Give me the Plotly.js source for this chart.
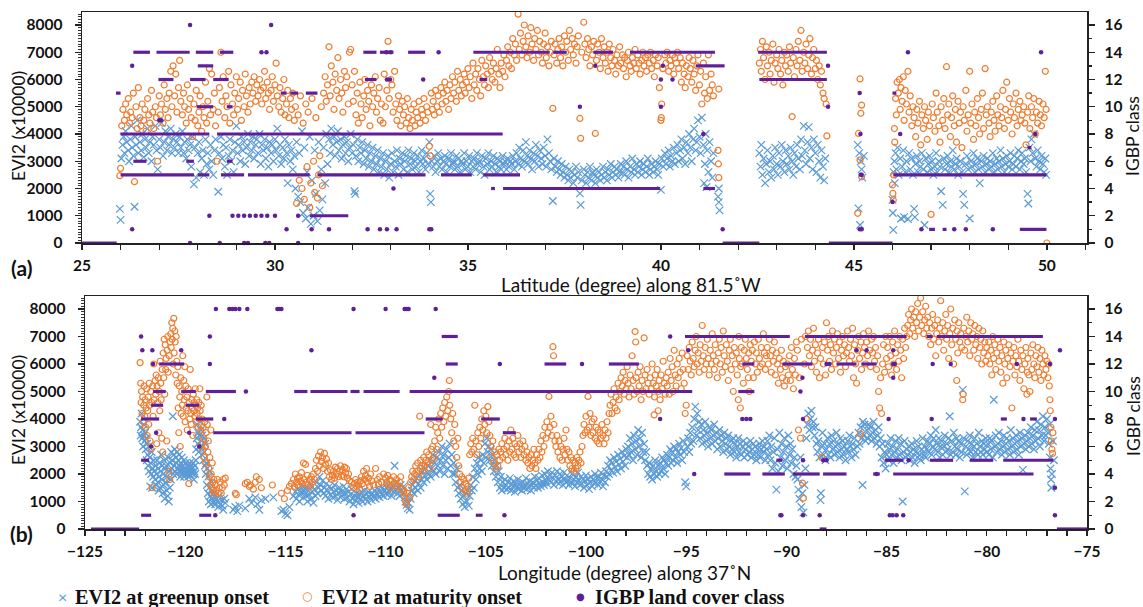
<!DOCTYPE html>
<html><head><meta charset="utf-8">
<script src="https://cdn.plot.ly/plotly-3.0.1.min.js"></script>
<style>html,body{margin:0;padding:0;background:#fff}#chart{width:1143px;height:607px}</style>
</head><body><div id="chart"></div>
<script>
// ---------- Panel (a): latitude along 81.5 W ----------
const greenupA = [[25.98,1250],[26.0,850],[26.02,3100],[26.05,3600],[26.08,3900],[26.1,3300],[26.13,4100],[26.16,3700],[26.2,3400],[26.22,3000],[26.25,3800],[26.28,4300],[26.3,3500],[26.33,3200],[26.36,1330],[26.38,3900],[26.4,3600],[26.43,4500],[26.46,3300],[26.5,3700],
[26.53,3400],[26.56,4000],[26.6,3150],[26.63,3800],[26.66,3500],[26.7,4200],[26.73,3300],[26.76,3700],[26.8,3000],[26.83,3900],[26.86,3600],[26.9,4300],[26.93,3400],[26.96,2700],[27.0,3800],[27.03,3500],[27.06,4400],[27.1,3200],[27.13,3700],[27.16,4100],[27.2,3400],[27.23,3900],[27.26,3600],[27.3,4200],[27.33,3300],[27.36,3800],[27.4,3500],[27.43,4000],[27.46,3700],[27.5,3300],
[27.53,3900],[27.56,3500],[27.6,4100],[27.63,3300],[27.66,3700],[27.7,3100],[27.73,3800],[27.76,3400],[27.8,3600],[27.83,2800],[27.86,3900],[27.9,2150],[27.93,3500],[27.96,2400],[28.0,3300],[28.03,3700],[28.06,2600],[28.1,3100],[28.13,3400],[28.16,2500],[28.2,3800],[28.23,2900],[28.26,3300],[28.3,2700],[28.33,3600],[28.36,3000],[28.4,2500],[28.43,3400],[28.46,3800],[28.53,1880],
[28.56,3300],[28.6,3900],[28.63,3100],[28.66,3600],[28.7,2800],[28.73,3500],[28.76,2500],[28.8,3200],[28.83,3800],[28.86,3000],[28.9,3400],[28.93,2600],[28.96,3700],[29.0,4300],[29.03,3300],[29.06,3600],[29.1,3000],[29.13,3900],[29.16,3400],[29.2,3700],[29.23,2900],[29.26,3500],[29.3,4000],[29.33,3200],[29.36,3700],[29.4,3400],[29.43,3900],[29.46,3100],[29.5,3600],
[29.53,3800],[29.56,3300],[29.6,4000],[29.63,2900],[29.66,3600],[29.7,3400],[29.73,3800],[29.76,3100],[29.8,3500],[29.83,2800],[29.86,3700],[29.9,3300],[29.93,3600],[29.96,3000],[30.0,3800],[30.03,3400],[30.06,4200],[30.1,3200],[30.13,3600],[30.16,2900],[30.2,3500],[30.23,3100],[30.26,3800],[30.3,3300],[30.33,2200],[30.36,3600],[30.4,3000],[30.43,3400],[30.46,2700],[30.5,3200],
[30.53,2000],[30.56,3700],[30.6,1700],[30.63,3300],[30.66,1500],[30.7,4100],[30.73,1100],[30.76,3500],[30.8,900],[30.83,2600],[30.86,1300],[30.9,3900],[30.93,700],[30.96,2300],[31.0,1000],[31.03,3400],[31.06,1800],[31.1,800],[31.13,3700],[31.16,1200],[31.2,2700],[31.23,1600],[31.26,3500],[31.3,2200],[31.33,4000],[31.36,2900],
[31.4,3800],[31.43,3300],[31.46,4200],[31.5,3600],[31.53,3900],[31.56,3200],[31.6,3700],[31.63,4100],[31.66,3400],[31.7,3800],[31.73,3100],[31.76,3600],[31.8,3900],[31.83,3300],[31.86,3700],[31.9,3000],[31.93,3500],[31.96,4000],[32.0,3300],[32.03,3600],[32.06,1900],[32.08,1800],[32.1,3200],[32.13,3800],[32.16,3000],[32.2,3500],[32.23,3300],[32.26,3700],[32.3,2900],[32.33,3400],[32.36,3100],[32.4,3600],[32.43,2800],[32.46,3300],[32.5,3000],[32.53,3500],[32.56,2700],[32.6,3200],[32.63,2900],[32.66,3400],[32.7,2600],[32.73,3100],[32.76,2800],[32.8,3300],[32.83,2500],[32.86,3000],[32.9,2700],[32.93,3200],[32.96,2400],[33.0,2900],
[33.03,3300],[33.06,2600],[33.1,3000],[33.13,2800],[33.16,3400],[33.2,2500],[33.23,3100],[33.26,2900],[33.3,3300],[33.33,2700],[33.36,3000],[33.4,3200],[33.43,2600],[33.46,3400],[33.5,2900],[33.53,3100],[33.56,2700],[33.6,3300],[33.63,3000],[33.66,2800],[33.7,3200],[33.73,2600],[33.76,3000],[33.8,3400],[33.83,2900],[33.86,3100],[33.9,2700],[33.93,3300],[33.96,2900],[34.0,3700],[34.02,1800],[34.04,1500],[34.06,3000],[34.1,2800],[34.13,3200],[34.16,2600],[34.2,3000],[34.23,3300],[34.26,2800],[34.3,3100],[34.33,2700],[34.36,3000],[34.4,3200],[34.43,2900],[34.46,2600],[34.5,3100],[34.53,2800],[34.56,3300],[34.6,2900],[34.63,3000],[34.66,2700],[34.7,3200],[34.73,2800],[34.76,3100],[34.8,2600],[34.83,3000],[34.86,2900],[34.9,3300],[34.93,2700],[34.96,3000],[35.0,2800],[35.03,3200],[35.06,2600],[35.1,3000],[35.13,2800],[35.16,3100],[35.2,2700],[35.23,3300],[35.26,2900],[35.3,3000],[35.33,2600],[35.36,3200],[35.4,2800],[35.43,2500],[35.46,3100],[35.5,2900],[35.53,3300],[35.56,2700],[35.6,3000],[35.63,2800],[35.66,3200],[35.7,2900],[35.73,2600],[35.76,3100],[35.8,2800],[35.83,3000],[35.86,2700],[35.9,3200],[35.93,2900],[35.96,3000],[36.0,2700],[36.03,3100],[36.06,2800],[36.1,3000],[36.13,2900],[36.16,3200],[36.2,2700],[36.23,3000],
[36.26,3300],[36.3,2900],[36.33,3500],[36.36,3100],[36.4,2800],[36.43,3400],[36.46,3000],[36.5,3700],[36.53,3200],[36.56,2900],[36.6,3400],[36.63,3100],[36.66,2700],[36.7,3300],[36.73,3000],[36.76,3600],[36.8,3200],[36.83,2800],[36.86,3400],[36.9,3100],[36.93,2900],[36.96,3500],[37.0,3200],[37.03,2800],[37.06,3800],[37.1,3300],[37.13,3000],[37.16,2700],[37.2,1540],[37.23,3100],[37.26,2800],[37.3,2600],[37.33,3000],[37.36,2700],[37.4,2500],[37.43,2900],[37.46,2600],[37.5,2400],
[37.53,2800],[37.56,2500],[37.6,2300],[37.63,2700],[37.66,2400],[37.7,2600],[37.73,2200],[37.76,2500],[37.8,2800],[37.83,2400],[37.86,2600],[37.9,1820],[37.92,1400],[37.95,2300],[38.0,2700],[38.03,2500],[38.06,2200],[38.1,2600],[38.13,2400],[38.16,2800],[38.2,2300],[38.23,2600],[38.26,2500],[38.3,2200],[38.33,2700],[38.36,2400],[38.4,2600],[38.43,2300],[38.46,2500],[38.5,2800],[38.53,2400],[38.56,2600],[38.6,2300],[38.63,2700],[38.66,2500],[38.7,2900],[38.73,2400],[38.76,2600],[38.8,2800],[38.83,2500],[38.86,2700],[38.9,2400],[38.93,2600],[38.96,2900],
[39.0,2600],[39.03,2800],[39.06,2500],[39.1,3000],[39.13,2700],[39.16,2400],[39.2,2800],[39.23,2600],[39.26,3100],[39.3,2700],[39.33,2500],[39.36,2900],[39.4,2600],[39.43,2800],[39.46,3000],[39.5,2500],[39.53,2700],[39.56,2900],[39.6,2600],[39.63,2800],[39.66,3100],[39.7,2500],[39.73,2700],[39.76,2900],[39.8,2600],[39.83,2800],[39.86,3000],[39.9,2700],[39.93,2500],[39.96,2900],[40.0,1950],[40.02,3100],
[40.06,2800],[40.1,3300],[40.13,2900],[40.16,3100],[40.2,3400],[40.23,2800],[40.26,3200],[40.3,3000],[40.33,3500],[40.36,2900],[40.4,3300],[40.43,3600],[40.46,3000],[40.5,3400],[40.53,3800],[40.56,3100],[40.6,3500],[40.63,2900],[40.66,3700],[40.7,3300],[40.73,4000],[40.76,3500],[40.8,3000],[40.83,3800],[40.86,4200],[40.9,3400],[40.93,3700],[40.96,4500],[41.0,3900],[41.03,3300],[41.06,4600],[41.1,3600],[41.12,2200],[41.14,2900],[41.16,4000],[41.18,2050],[41.2,3400],[41.23,2600],[41.26,3700],[41.3,3000],[41.33,2400],[41.36,3300],[41.48,1700],[41.5,1500],[41.52,1200],[41.5,2000],
[42.55,3300],[42.58,2800],[42.6,3600],[42.63,2500],[42.66,3100],[42.7,2200],[42.73,2900],[42.76,3400],[42.8,2600],[42.83,3000],[42.86,2400],[42.9,3200],[42.93,2700],[42.96,3500],[43.0,2900],[43.03,2500],[43.06,3300],[43.1,2800],[43.13,3600],[43.16,3000],[43.2,2600],[43.23,3400],[43.26,2900],[43.3,3200],[43.33,2700],[43.36,3500],[43.4,3000],[43.43,2500],[43.46,3300],[43.5,2800],[43.53,3600],[43.56,3100],[43.6,2700],[43.63,3800],[43.66,3200],[43.7,4300],[43.73,3400],[43.76,2900],[43.8,3700],[43.83,4250],[43.86,3100],[43.9,3500],[43.93,2700],[43.96,3800],[44.0,3300],[44.03,2600],[44.06,3600],[44.1,3000],[44.13,2400],[44.16,3400],[44.2,2800],[44.23,2300],[44.26,3100],
[45.1,3600],[45.14,3300],[45.18,3000],[45.2,2700],[45.22,2400],[45.12,1270],[45.16,660],[45.26,3200],
[46.0,1580],[46.01,1100],[46.02,480],[46.03,2600],[46.05,3000],[46.06,2200],[46.08,3300],[46.1,2700],[46.13,3500],[46.16,2500],[46.2,3100],[46.22,900],[46.25,2800],[46.28,3400],[46.3,950],[46.33,2600],[46.36,3000],[46.4,880],[46.43,3300],[46.46,2700],[46.5,3100],[46.53,2500],[46.56,1250],[46.58,950],[46.6,2900],[46.63,3200],[46.66,2600],[46.7,3000],[46.73,2800],[46.76,3300],[46.8,2700],[46.83,660],[46.86,3100],[46.9,2600],[46.93,2900],[46.96,3200],[47.0,2700],[47.03,3000],[47.06,2500],[47.1,2800],[47.13,3300],[47.16,2600],[47.2,3000],[47.23,2800],[47.26,1900],[47.3,1400],[47.33,3100],[47.36,2700],[47.4,2900],[47.43,3200],[47.46,2600],[47.5,3000],[47.53,2800],[47.56,3400],[47.6,2700],[47.63,2900],[47.66,3100],[47.7,2500],[47.73,2800],[47.76,3000],[47.8,2600],[47.83,1800],[47.86,1400],[47.9,2900],[47.93,3200],[47.96,2700],[48.0,900],[48.03,3000],[48.06,2800],[48.1,3300],[48.13,2600],[48.16,2900],[48.2,3100],[48.23,2700],[48.26,2200],[48.3,3000],[48.33,2800],[48.36,3200],[48.4,2600],[48.43,2900],[48.46,3100],[48.5,2700],[48.53,3000],[48.56,2800],[48.6,3300],[48.63,2600],[48.66,2900],[48.7,3100],[48.73,2700],[48.76,3000],[48.8,3400],[48.83,2800],[48.86,3100],[48.9,2600],[48.93,2900],[48.96,3200],[49.0,2800],[49.03,3000],[49.06,3300],[49.1,2700],[49.13,2900],[49.16,3200],[49.2,2800],[49.23,3100],[49.26,3400],[49.3,2700],[49.33,3000],[49.36,3300],[49.4,2900],[49.43,3100],[49.46,2600],[49.5,1800],[49.52,1450],[49.55,3500],[49.58,3000],[49.6,3800],[49.63,3300],[49.66,4000],[49.7,3100],[49.73,2800],[49.76,3400],[49.8,3000],[49.83,2700],[49.86,3200],[49.9,2900],[49.93,2600],[49.96,3100],[49.98,2500]];

const maturityA = [[25.98,2470],[26.0,2740],[26.03,4300],[26.06,4900],[26.1,4500],[26.13,5100],[26.16,4700],[26.2,5300],[26.23,4400],[26.26,4800],[26.3,4600],[26.33,5500],[26.36,2250],[26.4,5000],[26.43,4200],[26.46,5700],[26.5,4600],[26.53,4300],[26.56,5100],[26.6,4500],[26.63,4900],[26.66,4100],[26.7,5300],[26.73,4700],[26.76,4400],[26.8,5600],[26.83,4800],[26.86,4200],[26.9,5000],[26.93,4600],[26.96,3000],[27.0,5400],[27.03,4700],[27.06,5100],[27.1,4400],[27.13,5800],[27.16,4900],[27.2,5300],[27.23,4600],[27.26,5500],[27.3,6300],[27.33,5000],[27.36,6500],[27.4,5400],[27.43,6200],[27.46,4800],[27.5,5700],[27.53,6700],[27.56,5200],[27.6,4700],[27.63,5500],[27.66,5000],[27.7,4400],[27.73,5800],[27.76,4900],[27.8,5300],[27.83,4600],[27.86,3900],[27.9,5100],[27.93,4500],[27.96,5600],[28.0,4300],[28.03,4800],[28.06,5400],[28.1,4100],[28.13,5000],[28.16,4600],[28.2,5900],[28.23,4400],[28.26,5200],[28.3,6400],[28.33,4700],[28.36,6200],[28.4,4900],[28.43,5500],[28.46,4300],[28.5,3000],[28.53,4800],[28.56,5700],[28.6,7000],[28.63,5200],[28.66,6100],[28.7,4600],[28.73,5400],[28.76,5000],[28.8,6300],[28.83,4400],[28.86,5800],[28.9,5100],[28.93,4700],[28.96,5500],[29.0,6100],[29.03,4900],[29.06,5300],[29.1,5900],[29.13,4500],[29.16,5600],[29.2,5000],[29.23,6200],[29.26,5400],[29.3,4800],[29.33,5700],[29.36,5100],[29.4,5900],[29.43,5500],[29.46,6100],[29.5,5200],[29.53,5800],[29.56,5400],[29.6,6000],[29.63,5600],[29.66,5100],[29.7,5700],[29.73,6300],[29.76,5300],[29.8,5900],[29.83,5500],[29.86,4900],[29.9,5600],[29.93,6100],[29.96,5200],[30.0,5800],[30.03,6600],[30.06,5400],[30.1,5000],[30.13,5700],[30.16,4800],[30.2,5300],[30.23,6000],[30.26,4700],[30.3,5100],[30.33,5600],[30.36,4600],[30.4,5300],[30.43,4900],[30.46,5500],[30.5,4500],[30.53,5000],[30.56,1450],[30.6,4700],[30.63,2300],[30.66,5400],[30.7,2000],[30.73,4400],[30.76,1600],[30.8,5100],[30.83,2800],[30.86,4800],[30.9,1300],[30.93,2200],[30.96,5300],[31.0,3000],[31.03,1850],[31.06,4600],[31.1,1650],[31.13,2500],[31.16,3200],[31.2,5000],[31.23,2100],
[31.26,5500],[31.3,6100],[31.33,5200],[31.36,5800],[31.4,7200],[31.43,5400],[31.46,6500],[31.5,5900],[31.53,4900],[31.56,6200],[31.6,5600],[31.63,6800],[31.66,5300],[31.7,6000],[31.73,5500],[31.76,4800],[31.8,6300],[31.83,5700],[31.86,6100],[31.9,5100],[31.93,7000],[31.96,7100],[32.0,5800],[32.03,5200],[32.06,6300],[32.1,4700],[32.13,5500],[32.16,4400],[32.2,5900],[32.23,5100],[32.26,4600],[32.3,5400],[32.33,6000],[32.36,4900],[32.4,5600],[32.43,5200],[32.46,4300],[32.5,5800],[32.53,5000],[32.56,5500],[32.6,6100],[32.63,4800],[32.66,5300],[32.7,5700],[32.73,4500],[32.76,5100],[32.8,4400],[32.83,6200],[32.86,5000],[32.9,5600],[32.93,7400],[32.96,5300],[33.0,6000],
[33.03,5800],[33.06,4800],[33.1,6300],[33.13,5100],[33.16,4500],[33.2,5400],[33.23,4900],[33.26,4300],[33.3,5200],[33.33,4700],[33.36,5000],[33.4,4400],[33.43,5300],[33.46,4600],[33.5,4200],[33.53,4900],[33.56,4500],[33.6,5100],[33.63,4300],[33.66,4800],[33.7,4600],[33.73,5200],[33.76,4400],[33.8,4900],[33.83,4700],[33.86,5300],[33.9,4500],[33.93,5000],[33.96,4800],[34.0,3550],[34.02,3200],[34.05,5500],[34.08,4900],[34.1,5200],[34.13,4700],[34.16,5600],[34.2,5000],[34.23,5400],[34.26,4800],[34.3,5700],[34.33,5100],[34.36,5500],[34.4,5900],[34.43,5200],[34.46,5600],[34.5,4900],[34.53,5800],[34.56,5300],[34.6,6100],[34.63,5500],[34.66,5900],[34.7,5200],[34.73,6300],[34.76,5600],[34.8,6000],[34.83,5400],[34.86,5800],[34.9,6200],[34.93,5500],[34.96,5900],[35.0,6400],[35.03,5700],[35.06,6100],[35.1,5300],[35.13,6600],[35.16,5800],[35.2,6200],[35.23,5600],[35.26,6400],[35.3,6000],[35.33,5400],[35.36,6700],[35.4,6100],[35.43,5800],[35.46,6500],[35.5,6200],[35.53,5700],[35.56,6800],[35.6,6300],[35.63,6000],[35.66,6600],[35.7,5900],[35.73,6400],[35.76,7100],[35.8,6200],[35.83,5700],[35.86,6600],[35.9,6300],[35.93,6900],[35.96,6100],[36.0,6700],[36.03,7200],[36.06,6500],[36.1,7000],[36.13,6400],[36.16,7500],[36.2,6900],[36.23,7300],[36.26,6700],[36.3,8400],[36.33,7100],[36.36,7700],[36.4,6900],[36.43,7400],[36.46,8000],[36.5,7200],[36.53,6800],[36.56,7600],[36.6,7000],[36.63,7900],[36.66,7300],[36.7,6700],[36.73,7500],[36.76,7100],[36.8,7800],[36.83,6900],[36.86,7400],[36.9,7000],[36.93,6600],[36.96,7300],[37.0,7700],[37.03,6800],[37.06,7200],[37.1,6500],[37.13,7000],[37.16,7400],[37.2,4940],[37.23,6900],[37.26,7300],[37.3,6600],[37.33,7100],[37.36,7500],[37.4,6800],[37.43,7200],[37.46,6500],[37.5,7600],[37.53,7000],[37.56,7400],[37.6,6700],[37.63,7800],[37.66,7100],[37.7,7500],[37.73,6900],[37.76,7300],[37.8,6600],[37.83,7200],[37.86,7600],[37.9,4570],[37.92,3840],[37.95,7000],[38.0,8100],[38.03,7300],[38.06,6800],[38.1,7500],[38.13,7100],[38.16,6500],[38.2,7200],[38.23,6900],[38.26,7400],[38.3,4020],[38.33,6700],[38.36,7300],[38.4,7000],[38.43,6400],[38.46,7500],[38.5,6800],[38.53,7200],[38.56,6600],[38.6,7000],[38.63,6300],[38.66,7300],[38.7,6800],[38.73,6500],[38.76,7100],[38.8,6700],[38.83,6200],[38.86,6900],[38.9,6500],[38.93,7200],[38.96,6600],[39.0,6900],[39.03,6400],[39.06,6800],[39.1,6100],[39.13,6700],[39.16,7000],[39.2,6500],[39.23,6300],[39.26,6800],[39.3,6600],[39.33,7100],[39.36,6400],[39.4,6900],[39.43,6600],[39.46,6200],[39.5,6700],[39.53,7000],[39.56,6500],[39.6,6800],[39.63,6300],[39.66,6900],[39.7,6600],[39.73,7000],[39.76,6400],[39.8,6700],[39.83,6100],[39.86,6900],[39.9,6500],[39.93,6800],[39.96,5700],[40.0,4500],[40.01,4600],[40.02,5100],[40.05,6400],[40.1,6900],[40.13,6600],[40.16,7000],[40.2,6300],[40.23,6700],[40.26,6500],[40.3,6900],[40.33,6200],[40.36,6800],[40.4,6600],[40.43,7000],[40.46,6400],[40.5,6800],[40.53,5900],[40.56,6600],[40.6,6200],[40.63,5700],[40.66,6500],[40.7,6100],[40.73,6800],[40.76,6400],[40.8,5900],[40.83,6700],[40.86,6200],[40.9,5600],[40.93,6500],[40.96,6900],[41.0,5800],[41.03,6300],[41.06,5100],[41.1,6600],[41.13,5500],[41.16,6100],[41.2,5300],[41.23,6900],[41.26,5600],[41.3,6200],[41.33,5800],[41.36,5400],[41.48,3400],[41.49,2900],[41.5,2400],[41.5,5650],
[42.55,6600],[42.58,7100],[42.6,6300],[42.63,7400],[42.66,6800],[42.7,6000],[42.73,7200],[42.76,6500],[42.8,7000],[42.83,6200],[42.86,6700],[42.9,7300],[42.93,5900],[42.96,6600],[43.0,6900],[43.03,6400],[43.06,7100],[43.1,6200],[43.13,6700],[43.16,5800],[43.2,7000],[43.23,6500],[43.26,6900],[43.3,6300],[43.33,7200],[43.36,6600],[43.4,4640],[43.43,6800],[43.46,6100],[43.5,7100],[43.53,6500],[43.56,7400],[43.6,6700],[43.63,7800],[43.66,6300],[43.7,7000],[43.73,6600],[43.76,7300],[43.8,6400],[43.83,6900],[43.86,7500],[43.9,6200],[43.93,6800],[43.96,7100],[44.0,6400],[44.03,6700],[44.06,6000],[44.1,6500],[44.13,5800],[44.16,6300],[44.2,5500],[44.23,5300],[44.3,3930],[44.28,5100],
[45.16,6020],[45.2,5060],[45.18,4760],[45.12,4020],[45.16,3050],[45.2,2430],[45.1,1090],
[46.0,2130],[46.01,1820],[46.02,1580],[46.03,2500],[46.05,4200],[46.06,3700],[46.08,5300],[46.1,4700],[46.12,5900],[46.15,5500],[46.18,6000],[46.2,4900],[46.22,5700],[46.25,5200],[46.28,6100],[46.3,4500],[46.33,5600],[46.36,5100],[46.4,6300],[46.43,4800],[46.46,5400],[46.5,4300],[46.53,5000],[46.56,4600],[46.6,3900],[46.63,4900],[46.66,4400],[46.7,5200],[46.73,3600],[46.76,4700],[46.8,4200],[46.83,5000],[46.86,4500],[46.9,3800],[46.93,4800],[46.96,4300],[47.0,1050],[47.03,5100],[47.06,4600],[47.1,4100],[47.13,5500],[47.16,4800],[47.2,4300],[47.23,3700],[47.26,5000],[47.3,4500],[47.33,5300],[47.36,4200],[47.4,6470],[47.43,4700],[47.46,5100],[47.5,3900],[47.53,4600],[47.56,5400],[47.6,4300],[47.63,4900],[47.66,3700],[47.7,5200],[47.73,4400],[47.76,4800],[47.8,3500],[47.83,5000],[47.86,4500],[47.9,5600],[47.93,4100],[47.96,4700],[48.0,6300],[48.03,4400],[48.06,5100],[48.1,3800],[48.13,4800],[48.16,4300],[48.2,5300],[48.23,4600],[48.26,4000],[48.3,4900],[48.33,5500],[48.36,4200],[48.4,6400],[48.43,4700],[48.46,5000],[48.5,4400],[48.53,3900],[48.56,4800],[48.6,5200],[48.63,4500],[48.66,4100],[48.7,5400],[48.73,4700],[48.76,4300],[48.8,5000],[48.83,4600],[48.86,5600],[48.9,4200],[48.93,4900],[48.96,5900],[49.0,4500],[49.03,5300],[49.06,4800],[49.1,4000],[49.13,5100],[49.16,4600],[49.2,5500],[49.23,4300],[49.26,4900],[49.3,5200],[49.33,4500],[49.36,4700],[49.4,5000],[49.43,4400],[49.46,3600],[49.5,4800],[49.53,5400],[49.56,4200],[49.6,5000],[49.63,4600],[49.66,5300],[49.7,4000],[49.73,4800],[49.76,4400],[49.8,5200],[49.83,4700],[49.86,4300],[49.9,5100],[49.93,4600],[49.96,6300],[49.98,4900],[50.0,0]];

// IGBP runs: [class, start, end]
const igbpRunsA = [[0,25.0,25.9],[11,25.88,26.0],[8,26.0,28.3],[8,28.5,35.9],
[5,26.0,27.9],[5,28.0,28.3],[5,28.6,29.2],[5,29.3,30.9],[5,31.1,33.9],[5,34.3,35.1],[5,35.4,36.35],
[14,26.33,26.76],[14,26.93,27.79],[14,27.95,28.4],[14,28.57,28.92],[14,32.29,32.63],[14,32.72,33.07],[14,33.45,33.89],[14,35.14,37.12],[14,37.21,37.56],[14,38.25,38.76],[14,39.2,41.4],[14,42.52,44.3],
[12,26.98,27.37],[12,27.8,28.2],[12,28.4,28.8],[12,32.33,32.63],[12,35.3,35.5],[12,42.55,44.3],
[13,28.0,28.4],[13,40.9,41.65],[10,27.97,28.4],[10,28.75,28.9],
[6,26.33,26.67],[6,27.7,27.9],[6,28.75,28.9],
[11,30.15,30.3],[11,30.4,30.6],[11,30.8,31.1],[2,30.9,31.9],
[4,35.6,35.7],[4,35.91,39.98],[4,41.1,41.4],
[0,41.6,42.55],[0,44.35,46.0],[11,46.0,46.1],[5,46.02,49.99],
[1,46.95,47.1],[1,47.3,47.4],[1,49.3,49.99],[7,49.5,49.6]];
// IGBP single pixels: [latitude, class]
const igbpDotsA = [[28.3,2],[28.9,2],[29.05,2],[29.2,2],[29.35,2],[29.5,2],[29.65,2],[29.8,2],[30.0,2],[30.6,2],
[26.3,1],[30.3,1],[30.95,1],[31.4,1],[32.4,1],[32.9,1],[32.72,1],[33.15,1],[34.0,1],[34.05,1],[41.6,1],[45.15,1],[45.2,1],[46.75,1],[47.6,1],[47.9,1],[48.6,1],
[27.8,16],[29.9,16],[29.65,14],[29.78,14],[32.89,14],[33.0,14],[34.24,14],[46.4,14],[49.85,14],
[32.9,12],[32.98,12],[33.84,12],[40.0,12],[40.3,12],[26.3,13],[38.3,13],[40.05,13],[44.33,13],
[37.9,10],[40.0,10],[44.33,10],[27.0,9],[27.05,9],[45.15,11],[41.1,8],[45.17,8],[46.2,8],[49.7,8],
[45.18,5],[45.2,5],[33.07,4],[46.0,3],[27.8,0],[28.57,0],[29.2,0],[29.3,0],[29.75,0],[29.85,0],[30.6,0]];

// ---------- Panel (b): longitude along 37 N ----------
const greenupB = [[-122.25,3900],[-122.22,3400],[-122.2,3700],[-122.18,4200],[-122.15,3300],[-122.12,3600],[-122.1,3000],[-122.07,3800],[-122.05,3400],[-122.02,3200],[-122.0,3500],[-121.97,2900],[-121.95,3300],[-121.92,2500],[-121.9,3100],[-121.87,2700],[-121.85,2300],[-121.82,3000],[-121.8,2100],[-121.77,2600],[-121.75,1550],[-121.72,2400],[-121.7,2000],[-121.67,2800],[-121.65,1500],[-121.62,2200],[-121.6,1900],[-121.57,2500],[-121.55,2100],
[-121.5,1800],[-121.47,2300],[-121.45,1600],[-121.42,2000],[-121.4,2500],[-121.37,1700],[-121.35,2200],[-121.32,1400],[-121.3,1900],[-121.27,2400],[-121.25,1500],[-121.22,2100],[-121.2,2700],[-121.17,1800],[-121.15,2300],[-121.12,1300],[-121.1,2000],[-121.07,1600],[-121.05,2500],[-121.02,1100],[-121.0,2200],[-120.97,1700],
[-120.95,2300],[-120.92,1400],[-120.9,1900],[-120.87,1200],[-120.85,2600],[-120.82,1000],[-120.8,2100],[-120.77,1500],[-120.75,2400],[-120.72,1800],[-120.7,2800],[-120.67,2200],[-120.65,2500],[-120.62,4100],[-120.6,2000],[-120.57,2700],[-120.55,2300],[-120.52,2900],[-120.5,2100],[-120.47,2600],[-120.45,2400],[-120.42,2000],[-120.4,2800],[-120.37,2200],[-120.35,2500],[-120.32,2100],[-120.3,2700],[-120.27,2300],[-120.25,1900],[-120.22,2400],[-120.2,2100],[-120.17,2600],[-120.15,2000],[-120.12,2300],[-120.1,2100],[-120.07,2500],[-120.05,1900],[-120.02,2200],[-120.0,2000],[-119.97,2400],[-119.95,2100],[-119.92,2000],[-119.9,2300],[-119.87,2100],[-119.85,1900],[-119.82,2200],[-119.8,2000],[-119.77,2400],[-119.75,2100],[-119.72,1950],[-119.7,2300],[-119.67,2050],[-119.65,2200],[-119.62,2000],[-119.6,2400],[-119.57,1800],[-119.55,2100],[-119.52,2300],[-119.5,2000],[-119.47,2500],
[-119.45,2900],[-119.42,3300],[-119.4,3800],[-119.37,3100],[-119.35,3500],[-119.32,2800],[-119.3,3400],[-119.27,3900],[-119.25,3000],[-119.22,3600],[-119.2,3200],[-119.17,2700],[-119.15,3400],[-119.12,3000],[-119.1,2500],[-119.07,3300],[-119.05,2800],[-119.02,2300],[-119.0,3100],[-118.97,2000],
[-118.95,2400],[-118.92,1600],[-118.9,2200],[-118.87,1300],[-118.85,1900],[-118.82,1000],[-118.8,1500],[-118.77,2100],[-118.75,1200],[-118.72,900],[-118.7,1700],[-118.67,1100],[-118.65,1400],[-118.62,950],[-118.6,1300],[-118.57,1000],[-118.55,1200],[-118.5,900],[-118.45,1100],[-118.4,1000],[-118.35,800],[-118.3,1200],[-118.25,900],[-118.2,1050],[-118.15,850],[-118.1,700],[-118.05,1100],[-118.0,950],
[-117.6,700],[-117.5,800],[-117.4,650],[-117.3,850],[-117.0,750],[-116.8,1100],[-116.7,950],[-116.5,1150],[-116.4,900],[-116.3,700],[-116.2,1050],[-116.0,1100],[-115.6,1150],[-115.2,650],[-115.1,700],[-115.0,550],[-114.9,500],[-114.8,800],
[-114.6,1200],[-114.5,1350],[-114.45,1100],[-114.4,1450],[-114.35,1250],[-114.3,1000],[-114.25,1400],[-114.2,1300],[-114.15,1550],[-114.1,1150],[-114.05,1350],[-114.0,1500],[-113.95,1200],[-113.9,1000],[-113.85,1400],[-113.8,1250],[-113.75,1600],[-113.7,1100],[-113.65,1350],[-113.6,950],[-113.55,1450],[-113.5,1200],[-113.45,1700],[-113.4,1300],[-113.35,1500],[-113.3,1900],[-113.25,1600],[-113.2,1400],[-113.15,1750],[-113.1,1300],[-113.05,1500],[-113.0,1200],[-112.95,1650],[-112.9,1400],[-112.85,1100],[-112.8,1550],[-112.75,1250],[-112.7,1450],[-112.65,1150],[-112.6,1350],[-112.55,1600],[-112.5,1200],[-112.45,1400],[-112.4,1050],[-112.35,1300],[-112.3,1500],[-112.25,1150],[-112.2,1350],[-112.15,1250],[-112.1,1550],[-112.05,1100],[-112.0,1300],[-111.95,1450],[-111.9,1150],[-111.85,1350],[-111.8,1000],[-111.75,1250],[-111.7,1450],[-111.65,1100],[-111.6,900],[-111.55,1200],[-111.5,1050],[-111.45,1300],[-111.4,1150],[-111.35,950],[-111.3,1250],[-111.25,1100],[-111.2,1350],[-111.15,1000],[-111.1,1200],[-111.05,1400],[-111.0,1100],[-110.95,1250],[-110.9,1000],[-110.85,1350],[-110.8,1150],[-110.75,1250],[-110.7,1050],[-110.65,1300],[-110.6,1200],[-110.55,1400],[-110.5,1100],[-110.45,1300],[-110.4,1250],[-110.35,1450],[-110.3,1150],[-110.25,1350],[-110.2,1250],[-110.15,1500],[-110.1,1200],[-110.05,1400],[-110.0,1300],
[-109.95,1500],[-109.9,1250],[-109.85,1600],[-109.8,1350],[-109.75,1450],[-109.7,1200],[-109.65,1550],[-109.6,1350],[-109.55,2300],[-109.5,1450],[-109.45,1700],[-109.4,1300],[-109.35,1500],[-109.3,1200],[-109.25,1600],[-109.2,1400],[-109.15,1300],[-109.1,1550],[-109.05,1150],[-109.0,1000],[-108.95,880],[-108.9,750],[-108.85,950],[-108.8,700],[-108.75,1100],[-108.7,1400],[-108.65,1600],[-108.6,1300],[-108.55,1750],[-108.5,1500],[-108.45,1850],[-108.4,1400],[-108.35,1650],[-108.3,1950],[-108.25,1500],[-108.2,1800],[-108.15,2100],[-108.1,1700],[-108.05,1950],[-108.0,2200],
[-107.95,1800],[-107.9,2300],[-107.85,2000],[-107.8,2500],[-107.75,1900],[-107.7,2200],[-107.65,2700],[-107.6,2100],[-107.55,2400],[-107.5,2000],[-107.45,2600],[-107.4,2300],[-107.35,2800],[-107.3,2100],[-107.25,2500],[-107.2,3000],[-107.15,2300],[-107.1,2700],[-107.05,2000],[-107.0,2500],[-106.95,2900],[-106.9,2200],[-106.85,2600],[-106.8,3100],[-106.75,2300],[-106.7,2700],[-106.65,2000],[-106.6,2400],
[-106.55,2000],[-106.5,1700],[-106.45,2200],[-106.4,1500],[-106.35,1300],[-106.3,1600],[-106.25,1100],[-106.2,1400],[-106.15,900],[-106.1,1200],[-106.05,800],[-106.0,1300],[-105.95,1000],[-105.9,1400],[-105.85,850],[-105.8,1200],[-105.75,1600],[-105.7,1400],[-105.65,1900],[-105.6,1500],[-105.55,2200],[-105.5,1800],[-105.45,2400],[-105.4,2000],[-105.35,2600],[-105.3,2200],[-105.25,2500],[-105.2,2100],[-105.15,2700],[-105.1,2400],[-105.05,3100],[-105.0,2600],[-104.95,3300],[-104.9,2800],[-104.85,3000],[-104.8,2500],[-104.75,2900],[-104.7,2300],[-104.65,2700],[-104.6,2100],[-104.55,2500],[-104.5,1900],[-104.45,2300],[-104.4,1700],[-104.35,2100],[-104.3,1500],[-104.25,1900],[-104.2,1400],[-104.15,1700],[-104.1,1500],[-104.05,1800],[-104.0,1600],
[-103.95,1450],[-103.9,1700],[-103.85,1500],[-103.8,1850],[-103.75,1400],[-103.7,1650],[-103.65,1550],[-103.6,1750],[-103.55,1350],[-103.5,1600],[-103.45,1500],[-103.4,1800],[-103.35,1450],[-103.3,1650],[-103.25,1550],[-103.2,1400],[-103.15,1700],[-103.1,1500],[-103.05,1600],[-103.0,1850],[-102.95,1450],[-102.9,1650],[-102.85,1550],[-102.8,1750],[-102.75,1400],[-102.7,1600],[-102.65,1700],[-102.6,1500],[-102.55,1900],[-102.5,1600],[-102.45,1750],[-102.4,1500],[-102.35,1850],[-102.3,1650],[-102.25,1550],[-102.2,1950],[-102.15,1700],[-102.1,1600],[-102.05,2000],[-102.0,1750],[-101.95,1650],[-101.9,2100],[-101.85,1800],[-101.8,1950],[-101.75,1700],[-101.7,2050],[-101.65,1850],[-101.6,1600],[-101.55,1950],[-101.5,1750],[-101.45,2100],[-101.4,1800],[-101.35,1650],[-101.3,2000],[-101.25,1750],[-101.2,1900],[-101.15,1600],[-101.1,2050],[-101.05,1800],[-101.0,1700],
[-100.95,1950],[-100.9,1750],[-100.85,1600],[-100.8,1850],[-100.75,1700],[-100.7,2000],[-100.65,1650],[-100.6,1800],[-100.55,1550],[-100.5,1900],[-100.45,1700],[-100.4,2050],[-100.35,1750],[-100.3,1600],[-100.25,1900],[-100.2,1650],[-100.15,1800],[-100.1,1500],[-100.05,1750],[-100.0,1950],[-99.95,1600],[-99.9,1800],[-99.85,1450],[-99.8,1700],[-99.75,1900],[-99.7,1550],[-99.65,1800],[-99.6,1650],[-99.55,2000],[-99.5,1700],[-99.45,1850],[-99.4,1600],[-99.35,1900],[-99.3,1750],[-99.25,2050],[-99.2,1800],[-99.15,1550],[-99.1,1950],[-99.05,1700],[-99.0,2100],
[-98.95,1900],[-98.9,2300],[-98.85,2000],[-98.8,2500],[-98.75,2150],[-98.7,2400],[-98.65,2050],[-98.6,2600],[-98.55,2250],[-98.5,2450],[-98.45,2100],[-98.4,2700],[-98.35,2350],[-98.3,2550],[-98.25,2200],[-98.2,2800],[-98.15,2450],[-98.1,2650],[-98.05,2300],[-98.0,2900],
[-97.95,2600],[-97.9,3000],[-97.85,2700],[-97.8,3300],[-97.75,2800],[-97.7,3100],[-97.65,2500],[-97.6,3400],[-97.55,2900],[-97.5,3200],[-97.45,2700],[-97.4,3600],[-97.35,3000],[-97.3,3300],[-97.25,2600],[-97.2,3500],[-97.15,2800],[-97.1,3100],[-97.05,2500],[-97.0,2800],
[-96.95,2300],[-96.9,2000],[-96.85,2400],[-96.8,1900],[-96.75,2200],[-96.7,1800],[-96.65,2300],[-96.6,2000],[-96.55,2500],[-96.5,2100],[-96.45,1900],[-96.4,2300],[-96.35,2000],[-96.3,2400],[-96.25,2100],[-96.2,2600],[-96.15,2200],[-96.1,2500],[-96.05,2000],[-96.0,2400],
[-95.95,2700],[-95.9,2300],[-95.85,2600],[-95.8,2900],[-95.75,2400],[-95.7,2800],[-95.65,2500],[-95.6,3000],[-95.55,2600],[-95.5,2900],[-95.45,2400],[-95.4,2800],[-95.35,3100],[-95.3,2700],[-95.25,2950],[-95.2,2500],[-95.15,3200],[-95.1,2800],[-95.05,1700],[-95.0,1550],
[-94.95,3000],[-94.9,3300],[-94.85,2800],[-94.8,3500],[-94.75,3100],[-94.7,3700],[-94.65,3200],[-94.6,4000],[-94.55,4450],[-94.5,3400],[-94.45,4200],[-94.4,3600],[-94.35,3900],[-94.3,3300],[-94.25,3800],[-94.2,3100],[-94.15,3600],[-94.1,3400],[-94.05,3900],[-94.0,3200],[-93.95,3500],[-93.9,3000],[-93.85,3700],[-93.8,3300],[-93.75,3600],[-93.7,3100],[-93.65,3400],[-93.6,3800],[-93.55,3200],[-93.5,3500],[-93.45,2900],[-93.4,3300],[-93.35,3600],[-93.3,3000],[-93.25,3400],[-93.2,3200],[-93.15,2800],[-93.1,3500],[-93.05,3100],[-93.0,3300],[-92.95,2900],[-92.9,3400],[-92.85,3000],[-92.8,2700],[-92.75,3200],[-92.7,2900],[-92.65,3300],[-92.6,2800],[-92.55,3100],[-92.5,2600],[-92.45,3000],[-92.4,3300],[-92.35,2800],[-92.3,3100],[-92.25,2700],[-92.2,3000],[-92.15,3200],[-92.1,2600],[-92.05,2900],[-92.0,3100],[-91.95,2700],[-91.9,3000],[-91.85,2800],[-91.8,3200],[-91.75,2600],[-91.7,2900],[-91.65,3100],[-91.6,2700],[-91.55,3000],[-91.5,2500],[-91.45,2900],[-91.4,2700],[-91.35,3100],[-91.3,2600],[-91.25,2900],[-91.2,3200],[-91.15,2800],[-91.1,3000],[-91.05,2500],[-91.0,2900],
[-90.95,3200],[-90.9,2700],[-90.85,3400],[-90.8,2500],[-90.75,3000],[-90.7,2200],[-90.65,2800],[-90.6,3300],[-90.55,2400],[-90.5,1430],[-90.45,2900],[-90.4,2100],[-90.35,3500],[-90.3,2600],[-90.25,3100],[-90.2,2300],[-90.15,2800],[-90.1,3300],[-90.05,2500],[-90.0,3000],[-89.95,2200],[-89.9,3400],[-89.85,2700],[-89.8,3100],[-89.75,2400],[-89.7,2900],[-89.65,2000],[-89.6,2600],[-89.55,1900],[-89.5,2300],
[-89.45,1800],[-89.4,1430],[-89.35,1100],[-89.3,2600],[-89.25,800],[-89.2,1300],[-89.15,600],[-89.1,1600],[-89.05,2200],[-89.0,3300],
[-88.95,3800],[-88.9,4200],[-88.85,3600],[-88.8,4000],[-88.75,4300],[-88.7,3700],[-88.65,3900],[-88.6,3400],[-88.55,3700],[-88.5,3100],
[-88.45,2800],[-88.4,3200],[-88.35,2600],[-88.3,1050],[-88.28,1300],[-88.25,3000],[-88.2,3500],[-88.15,2700],[-88.1,3100],[-88.05,2500],[-88.0,2900],[-87.95,3300],[-87.9,2700],[-87.85,3100],[-87.8,2600],[-87.75,3400],[-87.7,2900],[-87.65,3200],[-87.6,2700],[-87.55,3000],[-87.5,3500],[-87.45,2800],[-87.4,3100],[-87.35,2600],[-87.3,3300],[-87.25,2900],[-87.2,3200],[-87.15,2700],[-87.1,3000],[-87.05,2500],[-87.0,2900],[-86.95,3200],[-86.9,2800],[-86.85,3400],[-86.8,3000],[-86.75,2600],[-86.7,3100],[-86.65,2900],[-86.6,3300],[-86.55,2700],[-86.45,3000],[-86.4,3500],[-86.35,3100],[-86.3,3700],[-86.25,3300],[-86.2,1600],[-86.18,3900],[-86.15,3400],[-86.1,3800],[-86.05,3200],
[-86.0,3600],[-85.95,3300],[-85.9,3800],[-85.85,3400],[-85.8,3700],[-85.75,3200],[-85.7,3500],[-85.65,3900],[-85.6,3300],[-85.55,3600],[-85.5,3100],[-85.45,3400],[-85.4,3700],[-85.35,3000],[-85.3,3300],[-85.25,2600],[-85.2,3100],[-85.15,2400],[-85.1,2800],[-85.05,2200],[-85.0,2700],
[-84.95,3100],[-84.9,2500],[-84.85,2900],[-84.8,3300],[-84.75,2700],[-84.7,3000],[-84.65,2400],[-84.6,2800],[-84.55,3200],[-84.5,2600],[-84.45,2900],[-84.4,3300],[-84.35,2700],[-84.3,3100],[-84.25,2500],[-84.2,1000],[-84.15,2800],[-84.1,3200],[-84.05,2600],[-84.0,2900],
[-83.95,2700],[-83.9,3000],[-83.85,2500],[-83.8,2800],[-83.75,3100],[-83.7,2600],[-83.65,2900],[-83.6,2400],[-83.55,2800],[-83.5,3200],[-83.45,2600],[-83.4,3000],[-83.35,2700],[-83.3,2500],[-83.25,2900],[-83.2,3300],[-83.15,2700],[-83.1,3000],[-83.05,2600],[-83.0,2900],[-82.95,3200],[-82.9,2800],[-82.85,3100],[-82.8,3400],[-82.75,2700],[-82.7,3000],[-82.65,3300],[-82.6,2900],[-82.55,3600],[-82.5,3100],[-82.45,2800],[-82.4,3300],[-82.35,2600],[-82.3,3000],[-82.25,3200],[-82.2,2700],[-82.15,3000],[-82.1,3400],[-82.05,2800],[-82.0,3100],
[-81.95,2900],[-81.9,3300],[-81.85,4100],[-81.8,2700],[-81.75,3200],[-81.7,2800],[-81.65,3500],[-81.6,3000],[-81.55,2700],[-81.5,3300],[-81.45,2900],[-81.4,3200],[-81.35,2600],[-81.3,3100],[-81.25,2800],[-81.2,5060],[-81.15,3300],[-81.1,1370],[-81.05,3000],[-81.0,2700],[-80.95,3200],[-80.9,2900],[-80.85,3400],[-80.8,2800],[-80.75,3100],[-80.7,2600],[-80.65,3000],[-80.6,3300],[-80.55,2800],[-80.5,3100],[-80.45,2700],[-80.4,3500],[-80.35,3000],[-80.3,2800],[-80.25,3200],[-80.2,2700],[-80.15,3100],[-80.1,2900],[-80.05,3300],[-80.0,2800],
[-79.95,3100],[-79.9,2700],[-79.85,3300],[-79.8,2900],[-79.75,3200],[-79.7,2600],[-79.65,4700],[-79.6,3000],[-79.55,3400],[-79.5,2800],[-79.45,3100],[-79.4,3500],[-79.35,2900],[-79.3,3200],[-79.25,2700],[-79.2,3000],[-79.15,3400],[-79.1,2800],[-79.05,3100],[-79.0,3300],[-78.95,2900],[-78.9,3200],[-78.85,2700],[-78.8,3600],[-78.75,3000],[-78.7,3300],[-78.65,2800],[-78.6,3100],[-78.55,3400],[-78.5,2900],[-78.45,3200],[-78.4,2700],[-78.35,3500],[-78.3,3000],[-78.25,3300],[-78.2,2150],[-78.15,3100],[-78.1,3400],[-78.05,2900],[-78.0,3200],
[-77.95,3500],[-77.9,3000],[-77.85,3300],[-77.8,3700],[-77.75,3100],[-77.7,3400],[-77.65,2900],[-77.6,3600],[-77.55,3200],[-77.5,3900],[-77.45,3300],[-77.4,3600],[-77.35,3000],[-77.3,3800],[-77.25,3400],[-77.2,4100],[-77.15,3200],[-77.1,3700],[-77.05,3400],[-77.0,4000],[-76.95,3500],[-76.9,3100],[-76.87,3800],[-76.85,2600],[-76.82,2200],[-76.8,1800],[-76.78,1500],[-76.75,2000],[-76.7,3200],[-76.65,2500]];

const maturityB = [[-122.25,6050],[-122.22,5300],[-122.2,4600],[-122.18,5000],[-122.15,4200],[-122.12,4800],[-122.1,3900],[-122.07,4500],[-122.05,5200],[-122.02,4100],[-122.0,4700],[-121.97,3700],[-121.95,4400],[-121.92,5100],[-121.9,3400],[-121.87,4300],[-121.85,4800],[-121.82,3800],[-121.8,5300],[-121.77,4500],[-121.75,3200],[-121.72,5000],[-121.7,2900],[-121.67,4600],[-121.65,1500],[-121.62,5200],[-121.6,4100],[-121.57,6000],[-121.55,4700],
[-121.5,5400],[-121.47,4900],[-121.45,5600],[-121.42,3100],[-121.4,5200],[-121.37,4600],[-121.35,5500],[-121.32,3500],[-121.3,5000],[-121.27,4300],[-121.25,6100],[-121.22,5300],[-121.2,4700],[-121.17,3300],[-121.15,5800],[-121.12,2800],[-121.1,6400],[-121.07,5500],[-121.05,6900],[-121.02,4900],[-121.0,6700],[-120.97,5800],[-120.95,6200],[-120.92,3200],[-120.9,6500],[-120.87,7000],[-120.85,5700],[-120.82,2100],[-120.8,6300],[-120.77,1800],[-120.75,6800],
[-120.72,7100],[-120.7,6600],[-120.67,7500],[-120.65,6900],[-120.62,7300],[-120.6,6000],[-120.57,7660],[-120.55,6400],[-120.52,7200],[-120.5,6800],[-120.47,5600],[-120.45,7000],[-120.42,6100],[-120.4,5300],[-120.37,5900],[-120.35,4400],[-120.32,3500],[-120.3,5200],[-120.27,4800],[-120.25,3000],[-120.22,5500],[-120.2,4200],
[-120.17,5000],[-120.15,4500],[-120.12,6300],[-120.1,4100],[-120.07,5400],[-120.05,4700],[-120.02,5900],[-120.0,3900],[-119.97,5200],[-119.95,4400],[-119.92,4800],[-119.9,3600],[-119.87,4300],[-119.85,5100],[-119.82,1650],[-119.8,4600],[-119.77,4000],[-119.75,5800],[-119.72,4200],[-119.7,3800],[-119.67,4700],[-119.65,4400],[-119.62,3400],[-119.6,4900],[-119.57,4300],[-119.55,4600],[-119.52,4100],[-119.5,5100],[-119.47,4500],[-119.45,3900],[-119.42,4700],[-119.4,4200],[-119.37,4400],[-119.35,3700],[-119.32,4600],[-119.3,4000],
[-119.27,5100],[-119.25,4300],[-119.22,3600],[-119.2,4500],[-119.17,3100],[-119.15,4000],[-119.12,2900],[-119.1,3700],[-119.07,3300],[-119.05,2600],[-119.02,3900],[-119.0,3000],[-118.97,2400],[-118.95,3500],
[-118.92,4800],[-118.9,3800],[-118.87,2800],[-118.85,3200],[-118.82,2200],[-118.8,1900],[-118.77,2600],[-118.75,1600],[-118.72,3600],[-118.7,2000],[-118.67,1500],[-118.65,2400],[-118.62,1700],[-118.6,1400],[-118.57,1800],[-118.55,1300],[-118.5,1600],[-118.45,1400],[-118.4,1800],[-118.35,1300],[-118.3,1500],[-118.25,1700],[-118.2,1300],[-118.15,1500],[-118.1,1800],[-118.05,1600],[-118.0,1850],
[-117.5,1300],[-117.45,1250],[-117.0,1650],[-116.9,1700],[-116.8,1550],[-116.75,1600],[-116.6,1450],[-116.5,1700],[-116.45,1900],[-116.3,1800],[-116.2,1500],[-115.65,1600],[-115.2,1300],[-115.05,1100],[-114.9,1400],[-114.8,1550],[-114.7,1650],
[-114.6,1800],[-114.55,1550],[-114.5,2000],[-114.45,1700],[-114.4,1850],[-114.35,1600],[-114.3,1900],[-114.25,1750],[-114.2,2050],[-114.15,1650],[-114.1,2400],[-114.05,1800],[-114.0,2350],[-113.95,1700],[-113.9,1950],[-113.85,1600],[-113.8,1800],[-113.75,1550],[-113.7,1900],[-113.65,1700],[-113.6,2000],[-113.55,1800],[-113.5,2200],[-113.45,2500],[-113.4,2100],[-113.35,2650],[-113.3,2300],[-113.25,2800],[-113.2,2450],[-113.15,2600],[-113.1,2200],[-113.05,2750],[-113.0,2350],[-112.95,2550],[-112.9,2100],[-112.85,2400],[-112.8,1900],[-112.75,2150],[-112.7,1800],[-112.65,1950],[-112.6,2100],[-112.55,1850],[-112.5,2250],[-112.45,2000],[-112.4,2200],[-112.35,1900],[-112.3,2100],[-112.25,2300],[-112.2,1950],[-112.15,2150],[-112.1,1900],[-112.05,2250],[-112.0,2050],[-111.95,2200],[-111.9,1850],[-111.85,2000],[-111.8,1750],[-111.7,1700],[-111.6,1500],[-111.55,1650],[-111.5,1800],[-111.45,1550],[-111.4,1700],[-111.35,1600],[-111.3,1450],[-111.25,1750],[-111.2,1900],[-111.15,1650],[-111.1,2100],[-111.05,1800],[-111.0,1950],[-110.95,2200],[-110.9,1700],[-110.85,1850],[-110.8,1550],[-110.75,2000],[-110.7,1750],[-110.6,1600],[-110.5,2200],[-110.4,1800],[-110.35,1650],[-110.3,1900],[-110.2,1700],[-110.1,2000],[-110.0,1850],
[-109.95,1700],[-109.9,1950],[-109.85,1600],[-109.8,1800],[-109.75,1500],[-109.7,1750],[-109.6,1900],[-109.5,1650],[-109.45,1800],[-109.4,1550],[-109.3,1700],[-109.25,1900],[-109.2,1450],[-109.1,1350],[-109.05,1200],[-109.0,1000],[-108.95,900],[-108.9,1300],[-108.85,1500],[-108.8,1150],[-108.75,1700],[-108.7,1900],[-108.65,2100],[-108.6,1800],[-108.55,2000],[-108.5,2300],[-108.45,2100],[-108.4,2400],[-108.35,1900],[-108.3,4100],[-108.28,2200],[-108.25,2500],[-108.2,2300],[-108.15,2100],[-108.1,2600],[-108.05,2300],[-108.0,2500],
[-107.95,2800],[-107.9,2400],[-107.85,2700],[-107.8,2200],[-107.75,3800],[-107.72,2900],[-107.7,2500],[-107.65,3000],[-107.6,2600],[-107.55,3200],[-107.5,3700],[-107.45,2900],[-107.4,3500],[-107.35,4000],[-107.3,3300],[-107.25,4200],[-107.2,3700],[-107.15,4400],[-107.1,3900],[-107.05,4600],[-107.0,4100],[-106.95,4800],[-106.9,4300],[-106.85,5000],[-106.82,5400],[-106.8,4500],[-106.75,4000],[-106.7,3500],[-106.65,4200],[-106.6,3200],[-106.55,3800],[-106.5,3000],[-106.45,2600],[-106.4,3300],[-106.35,2300],
[-106.3,2000],[-106.25,1700],[-106.2,1900],[-106.15,1500],[-106.1,1800],[-106.05,1400],[-106.0,1650],[-105.95,1300],[-105.9,1550],[-105.85,1850],
[-105.8,2700],[-105.75,3100],[-105.7,2800],[-105.65,3300],[-105.6,2900],[-105.55,4500],[-105.5,3200],[-105.45,2700],[-105.4,3500],[-105.35,3000],
[-105.3,3700],[-105.25,3300],[-105.2,4000],[-105.15,3600],[-105.1,4300],[-105.05,3800],[-105.0,4100],[-104.95,3500],[-104.9,4450],[-104.85,3900],[-104.8,3400],
[-104.75,3000],[-104.7,2600],[-104.65,3200],[-104.6,2400],[-104.55,2800],[-104.5,2200],[-104.45,2700],[-104.4,2300],[-104.35,2900],[-104.3,2500],
[-104.25,2800],[-104.2,3100],[-104.15,2600],[-104.1,2900],[-104.05,3300],[-104.0,2700],[-103.95,3000],[-103.9,2500],[-103.85,3200],[-103.8,2800],[-103.75,3600],[-103.7,2900],[-103.65,3300],[-103.6,2700],[-103.55,3100],[-103.5,2600],[-103.45,3000],[-103.4,3400],[-103.35,2800],[-103.3,3100],[-103.25,2600],[-103.2,2900],[-103.15,3200],[-103.1,2700],[-103.05,3000],[-103.0,2500],
[-102.95,2800],[-102.9,2400],[-102.85,2600],[-102.8,2200],[-102.75,2700],[-102.7,2300],[-102.65,2500],[-102.6,2900],[-102.55,2400],[-102.5,2200],[-102.45,2700],[-102.4,2500],[-102.35,2900],[-102.3,2600],[-102.25,3200],[-102.2,2800],[-102.15,3400],[-102.1,3000],[-102.05,3700],[-102.0,3300],
[-101.95,3900],[-101.9,3500],[-101.85,4820],[-101.8,3700],[-101.75,4100],[-101.7,3400],[-101.65,6630],[-101.62,6300],[-101.6,3800],[-101.55,3200],
[-101.5,3000],[-101.45,3400],[-101.4,2800],[-101.35,3200],[-101.3,2600],[-101.25,3000],[-101.2,2500],[-101.15,2900],[-101.1,3300],[-101.05,2700],[-101.0,3600],[-100.95,2900],[-100.9,2500],[-100.85,2800],
[-100.8,2300],[-100.75,2600],[-100.7,2200],[-100.65,2500],[-100.6,2100],[-100.55,2400],[-100.5,2200],[-100.45,2600],[-100.4,2300],[-100.35,2500],[-100.3,2800],[-100.25,2400],[-100.2,3000],
[-100.15,3400],[-100.1,3800],[-100.05,3500],[-100.0,4100],[-99.95,3600],[-99.9,4820],[-99.85,3700],[-99.8,4200],[-99.75,3400],[-99.7,3900],[-99.65,3500],[-99.6,4000],[-99.55,3300],
[-99.5,3700],[-99.45,3200],[-99.4,3600],[-99.35,3100],[-99.3,3500],[-99.25,3300],[-99.2,3800],[-99.15,3400],[-99.1,3100],[-99.05,3600],[-99.0,3300],[-98.95,3900],[-98.9,3500],[-98.85,4200],
[-98.8,4500],[-98.75,4900],[-98.7,4200],[-98.65,4600],[-98.6,5100],[-98.55,4400],[-98.5,4800],[-98.45,4300],[-98.4,5300],[-98.35,4700],
[-98.3,5000],[-98.25,5500],[-98.2,5200],[-98.15,5700],[-98.1,4900],[-98.05,5400],[-98.0,5100],[-97.95,5900],[-97.9,5300],[-97.85,4800],[-97.8,5600],[-97.75,5100],[-97.7,6300],[-97.65,5400],[-97.6,4900],[-97.55,7180],[-97.52,6800],[-97.5,5500],[-97.45,5000],[-97.4,5700],[-97.35,5200],[-97.3,5900],[-97.25,4700],[-97.2,5400],[-97.15,5000],[-97.1,6950],[-97.05,5600],[-97.0,5100],[-96.95,5800],[-96.9,5300],[-96.85,4900],[-96.8,5500],[-96.75,5100],[-96.7,6000],[-96.65,5300],[-96.6,4150],[-96.58,4800],[-96.55,5600],[-96.5,5200],[-96.45,5800],[-96.4,4300],[-96.38,5000],[-96.35,5400],[-96.3,4700],[-96.25,5600],[-96.2,5100],[-96.15,6100],[-96.1,5300],[-96.05,4900],[-96.0,5500],
[-95.95,5200],[-95.9,5700],[-95.85,4900],[-95.8,6200],[-95.75,5400],[-95.7,5900],[-95.65,5000],[-95.6,6500],[-95.55,5600],[-95.5,5200],[-95.45,6000],[-95.4,5500],[-95.35,6200],[-95.3,5700],[-95.25,5100],[-95.2,6400],[-95.15,5800],[-95.1,5300],[-95.05,4200],[-95.0,4500],
[-94.95,6300],[-94.9,5800],[-94.85,6600],[-94.8,6100],[-94.75,5600],[-94.7,6800],[-94.65,6200],[-94.6,5900],[-94.55,6500],[-94.5,7000],[-94.45,6000],[-94.4,6400],[-94.35,5700],[-94.3,6700],[-94.25,6100],[-94.2,7400],[-94.15,6300],[-94.1,5800],[-94.05,6600],[-94.0,6000],[-93.95,6900],[-93.9,6200],[-93.85,5600],[-93.8,6500],[-93.75,6000],[-93.7,7100],[-93.65,6300],[-93.6,5800],[-93.55,6700],[-93.5,6100],[-93.45,5500],[-93.4,6400],[-93.35,6900],[-93.3,6000],[-93.25,6600],[-93.2,5700],[-93.15,7200],[-93.1,6300],[-93.05,5900],[-93.0,6700],[-92.95,6100],[-92.9,5400],[-92.85,6500],[-92.8,6900],[-92.75,5800],[-92.7,6300],[-92.65,5000],[-92.6,6600],[-92.55,6000],[-92.5,6400],[-92.45,5600],[-92.4,4700],[-92.38,7000],[-92.35,6200],[-92.3,4400],[-92.28,5900],[-92.25,6600],[-92.2,6000],[-92.15,5300],[-92.1,6500],[-92.05,6900],[-92.0,6200],[-91.95,5800],[-91.9,5500],[-91.88,6400],[-91.85,5000],[-91.8,6700],[-91.75,6100],[-91.7,6500],[-91.65,5500],[-91.6,6800],[-91.55,6000],[-91.5,6400],[-91.45,5700],[-91.4,6900],[-91.35,6200],[-91.3,5900],[-91.25,6600],[-91.2,6000],[-91.15,7100],[-91.1,6400],[-91.05,5800],[-91.0,6300],
[-90.95,6600],[-90.9,6000],[-90.85,6900],[-90.8,6300],[-90.75,5700],[-90.7,6500],[-90.65,6100],[-90.6,6800],[-90.55,5600],[-90.5,6400],[-90.45,6000],[-90.4,5300],[-90.35,6200],[-90.3,5800],[-90.25,6500],[-90.2,5500],[-90.15,6100],[-90.1,5200],[-90.05,5900],[-90.0,5400],[-89.95,6000],[-89.9,5600],[-89.85,6300],[-89.8,5400],[-89.75,6600],[-89.7,5800],[-89.65,5100],[-89.6,6200],[-89.55,5600],[-89.5,6800],
[-89.45,6500],[-89.4,3600],[-89.35,5500],[-89.3,3300],[-89.25,6900],[-89.2,1670],[-89.15,1120],[-89.1,6000],[-89.05,7000],[-89.0,4000],
[-88.95,6600],[-88.9,7200],[-88.85,6300],[-88.8,6900],[-88.75,5900],[-88.7,6500],[-88.65,7300],[-88.6,6100],[-88.55,6700],[-88.5,5700],[-88.45,6400],[-88.4,6900],[-88.35,5500],[-88.3,6200],[-88.25,2600],[-88.2,6600],[-88.15,6000],[-88.1,6800],[-88.05,5600],[-88.0,7500],
[-87.95,6500],[-87.9,7000],[-87.85,6100],[-87.8,6700],[-87.75,5800],[-87.7,7200],[-87.65,6400],[-87.6,6900],[-87.55,6000],[-87.5,6600],[-87.45,7100],[-87.4,6200],[-87.35,6800],[-87.3,5700],[-87.25,6500],[-87.2,7000],[-87.15,6300],[-87.1,6700],[-87.05,5900],[-87.0,6400],[-86.95,7200],[-86.9,6600],[-86.85,6100],[-86.8,6900],[-86.75,6300],[-86.7,7300],[-86.65,5500],[-86.6,6700],[-86.55,6000],[-86.5,5300],[-86.45,6500],[-86.4,7000],[-86.35,6200],[-86.3,3450],[-86.28,6800],[-86.25,5800],[-86.2,6400],[-86.15,7100],[-86.1,6600],[-86.05,6000],[-86.0,6800],[-85.95,6300],[-85.9,7200],[-85.85,6500],[-85.8,5900],[-85.75,6900],[-85.7,6400],[-85.65,7000],[-85.6,6100],[-85.55,6600],[-85.5,5800],[-85.45,6300],[-85.4,5000],[-85.35,4400],[-85.3,5500],[-85.25,4200],[-85.2,6000],[-85.15,6700],[-85.1,5700],[-85.05,7000],[-85.0,6200],
[-84.95,6600],[-84.9,5900],[-84.85,7000],[-84.8,6300],[-84.75,5600],[-84.7,6800],[-84.65,6000],[-84.6,7200],[-84.55,6400],[-84.5,5800],[-84.45,6700],[-84.4,6100],[-84.35,7000],[-84.3,6500],[-84.25,5500],[-84.2,6900],[-84.15,6200],[-84.1,7300],[-84.05,6600],[-84.0,7000],
[-83.95,7400],[-83.9,7800],[-83.85,7100],[-83.8,7600],[-83.75,8000],[-83.7,7300],[-83.65,7700],[-83.6,7000],[-83.55,7900],[-83.5,7500],[-83.45,8200],[-83.4,7200],[-83.35,7700],[-83.3,8400],[-83.25,7400],[-83.2,7900],[-83.15,7100],[-83.1,7600],[-83.05,8100],[-83.0,7300],[-82.95,7700],[-82.9,7000],[-82.85,7500],[-82.8,6700],[-82.75,7300],[-82.7,7800],[-82.65,6900],[-82.6,7400],[-82.55,6300],[-82.5,7100],
[-82.45,7600],[-82.4,6800],[-82.35,7300],[-82.3,8300],[-82.25,7000],[-82.2,7500],[-82.15,6500],[-82.1,7200],[-82.05,7800],[-82.0,6900],[-81.95,7400],[-81.9,6200],[-81.85,7100],[-81.8,8000],[-81.75,6700],[-81.7,7300],[-81.65,6000],[-81.6,7600],[-81.55,6900],[-81.5,5400],[-81.48,7200],[-81.45,6400],[-81.4,7500],[-81.35,6800],[-81.3,7100],[-81.25,6600],[-81.2,4700],[-81.18,4900],[-81.15,7300],[-81.1,6500],[-81.05,7000],[-81.0,7700],[-80.95,6800],[-80.9,7200],[-80.85,6300],[-80.8,7500],[-80.75,6900],[-80.7,7100],[-80.65,6500],[-80.6,7400],[-80.55,6700],[-80.5,7000],[-80.45,6200],[-80.4,7300],[-80.35,6600],[-80.3,6900],[-80.25,6000],[-80.2,7200],[-80.15,6400],[-80.1,6800],[-80.05,6100],[-80.0,6600],
[-79.95,6300],[-79.9,6800],[-79.85,6000],[-79.8,6500],[-79.75,5600],[-79.7,7000],[-79.65,6200],[-79.6,6700],[-79.55,5800],[-79.5,6400],[-79.45,6900],[-79.4,6100],[-79.35,6600],[-79.3,5700],[-79.25,6300],[-79.2,5300],[-79.15,6800],[-79.1,6000],[-79.05,6500],[-79.0,5500],[-78.95,6200],[-78.9,6700],[-78.85,5900],[-78.8,6400],[-78.75,4400],[-78.7,6100],[-78.65,6600],[-78.6,5600],[-78.55,6300],[-78.5,5900],[-78.45,6900],[-78.4,6100],[-78.35,5400],[-78.3,6500],[-78.25,5800],[-78.2,6300],[-78.15,5100],[-78.1,6000],[-78.05,6600],[-78.0,4900],[-77.98,5700],
[-77.95,6200],[-77.9,5600],[-77.85,5000],[-77.8,6400],[-77.75,5800],[-77.7,6700],[-77.65,6000],[-77.6,5500],[-77.55,6300],[-77.5,5900],[-77.45,6600],[-77.4,5700],[-77.35,6200],[-77.3,5400],[-77.25,6500],[-77.2,6000],[-77.15,5600],[-77.1,6300],[-77.05,5800],[-77.0,6100],[-76.95,5500],[-76.9,6000],
[-76.88,5200],[-76.85,4700],[-76.83,4300],[-76.8,3700],[-76.78,3200],[-76.75,2900],[-76.72,2750],[-76.7,3500]];

const igbpRunsB = [[0,-124.7,-122.3],[12,-121.3,-120.05],
[10,-121.6,-120.97],[10,-120.2,-119.47],[10,-118.97,-117.47],[10,-114.56,-113.9],[10,-113.75,-111.9],[10,-111.75,-111.3],[10,-111.1,-109.3],[10,-108.8,-94.7],[10,-92.4,-91.6],
[9,-121.7,-121.1],[9,-119.97,-119.3],[8,-122.2,-121.3],[8,-119.47,-118.6],[8,-108.0,-107.15],[8,-105.23,-104.3],
[7,-118.6,-111.7],[7,-111.5,-108.06],[7,-104.15,-103.5],[5,-122.2,-121.8],
[1,-122.2,-121.7],[1,-119.3,-118.7],[1,-107.4,-106.3],[1,-105.5,-105.16],
[14,-107.2,-106.4],[14,-95.06,-89.83],[14,-89.08,-84.0],[14,-83.0,-82.7],[14,-82.5,-77.2],
[12,-107.0,-106.4],[12,-102.07,-100.99],[12,-98.86,-97.36],[12,-92.2,-91.6],[12,-90.2,-88.7],[12,-87.5,-86.5],[12,-86.26,-85.5],
[4,-93.1,-91.8],[4,-91.2,-90.08],[4,-89.67,-88.34],[4,-88.17,-87.0],[4,-85.67,-85.34],[4,-84.67,-77.67],
[5,-90.5,-90.2],[5,-85.08,-84.17],[5,-82.84,-81.68],[5,-80.84,-79.68],[5,-79.18,-76.68],
[8,-79.3,-79.0],[8,-77.84,-77.5],[0,-88.34,-88.0],[0,-76.5,-75.0]];
const igbpDotsB = [[-118.47,16],[-117.8,16],[-117.65,16],[-117.5,16],[-117.3,16],[-116.9,16],[-115.4,16],[-115.3,16],[-115.2,16],[-111.6,16],[-110.0,16],[-109.05,16],[-108.95,16],[-108.85,16],[-107.5,16],
[-122.2,14],[-118.77,14],[-95.8,14],
[-122.14,13],[-121.64,13],[-120.2,13],[-113.7,13],[-94.9,13],[-86.5,13],[-86.0,13],[-84.67,13],[-76.35,13],
[-121.6,12],[-118.77,12],[-104.3,12],[-100.2,12],[-88.0,12],[-87.85,12],[-84.67,12],[-84.6,12],[-82.7,12],[-81.8,12],[-78.5,12],[-76.85,12],
[-107.57,11],[-89.2,11],[-84.67,11],[-116.97,10],[-89.3,10],
[-118.05,8],[-96.3,8],[-92.2,8],[-92.0,8],[-91.8,8],[-89.17,8],[-84.9,8],[-82.75,8],[-78.17,8],[-76.6,8],
[-121.45,7],[-119.8,7],[-121.7,6],[-119.3,6],[-89.17,5],[-88.16,5],[-88.0,5],[-83.9,5],[-94.6,4],[-85.5,4],[-76.6,3],
[-118.5,1],[-111.6,1],[-104.07,1],[-90.3,1],[-90.25,1],[-89.17,1],[-88.34,1],[-84.84,1],[-84.7,1],[-84.5,1],[-84.17,1],[-76.6,1]];

// ---------- helpers ----------
const col = (p,i) => p.map(d => d[i]);
function runsXY(runs){const x=[],y=[];runs.forEach(r=>{x.push(r[1],r[2],null);y.push(r[0],r[0],null);});return {x,y};}

const BLUE='#5b9bd5', ORANGE='#ed7d31', PURPLE='#5f1f99';
function gTrace(p,xa,ya){return {type:'scatter',mode:'markers',x:col(p,0),y:col(p,1),xaxis:xa,yaxis:ya,showlegend:false,hoverinfo:'skip',
  marker:{symbol:'x-thin-open',size:7.5,color:BLUE,line:{color:BLUE,width:1.2}}};}
function mTrace(p,xa,ya){return {type:'scatter',mode:'markers',x:col(p,0),y:col(p,1),xaxis:xa,yaxis:ya,showlegend:false,hoverinfo:'skip',
  marker:{symbol:'circle-open',size:6,color:ORANGE,line:{color:ORANGE,width:1.2}}};}
function rTrace(runs,xa,ya){const r=runsXY(runs);return {type:'scatter',mode:'lines',x:r.x,y:r.y,xaxis:xa,yaxis:ya,showlegend:false,hoverinfo:'skip',cliponaxis:false,connectgaps:false,
  line:{color:PURPLE,width:3.2}};}
function dTrace(p,xa,ya){return {type:'scatter',mode:'markers',x:col(p,0),y:col(p,1),xaxis:xa,yaxis:ya,showlegend:false,hoverinfo:'skip',cliponaxis:false,
  marker:{symbol:'circle',size:4.5,color:PURPLE}};}

const data=[gTrace(greenupA,'x','y'),mTrace(maturityA,'x','y'),rTrace(igbpRunsA,'x','y2'),dTrace(igbpDotsA,'x','y2'),
  gTrace(greenupB,'x2','y3'),mTrace(maturityB,'x2','y3'),rTrace(igbpRunsB,'x2','y4'),dTrace(igbpDotsB,'x2','y4')];

const W=1143,H=607;
const tf={family:'Lato, "Open Sans", sans-serif',size:15.5,color:'#111',weight:'bold'};
const axBase={showgrid:false,zeroline:false,showline:true,linecolor:'#222',linewidth:1.5,ticks:'outside',ticklen:5,tickwidth:1.3,tickcolor:'#222',tickfont:tf};
function xa(dom,anchor,range,tick0){return Object.assign({},axBase,{domain:dom,anchor:anchor,range:range,tick0:tick0,dtick:5,mirror:true,ticklabelstandoff:3,
  minor:{dtick:1,tick0:tick0,ticks:'outside',ticklen:5,tickcolor:'#222',tickwidth:1.2}});}
function yl(dom,anchor,range){return Object.assign({},axBase,{domain:dom,anchor:anchor,range:range,dtick:1000,tick0:0,ticklen:6,ticklabelstandoff:9,
  minor:{dtick:100,ticks:'outside',ticklen:3,tickcolor:'#333',tickwidth:1}});}
function yr(ov,anchor,range){return Object.assign({},axBase,{overlaying:ov,anchor:anchor,side:'right',range:range,dtick:2,tick0:0,ticklen:6,ticklabelstandoff:7,
  minor:{dtick:1,ticks:'outside',ticklen:3,tickcolor:'#222'}});}

const py=v=>1-v/H, px=v=>v/W;
const layout={width:W,height:H,margin:{l:0,r:0,t:0,b:0},paper_bgcolor:'#fff',plot_bgcolor:'#fff',showlegend:false,
  xaxis:xa([px(82),px(1087)],'y',[25,51.04],25),
  yaxis:yl([py(243),py(12)],'x',[0,8477]),
  yaxis2:yr('y','x',[0,16.954]),
  xaxis2:xa([px(85),px(1087)],'y3',[-125,-75],-125),
  yaxis3:yl([py(529),py(296)],'x2',[0,8473]),
  yaxis4:yr('y3','x2',[0,16.945]),
  annotations:[]};
const A=layout.annotations;
function ann(text,x,y,font,opt){A.push(Object.assign({text:text,xref:'paper',yref:'paper',x:px(x),y:py(y),showarrow:false,font:font,xanchor:'center',yanchor:'middle'},opt||{}));}
const titleF={family:'Lato, "Open Sans", sans-serif',size:17.5,color:'#111'};
const xtitleF={family:'Lato, "Open Sans", sans-serif',size:19,color:'#111'};
ann('EVI2 (x10000)',18,126,titleF,{textangle:-90});
ann('EVI2 (x10000)',18,410,titleF,{textangle:-90});
ann('IGBP class',1133,136,titleF,{textangle:-90});
ann('IGBP class',1133,416,titleF,{textangle:-90});
ann('Latitude (degree) along 81.5˚W',631,284,xtitleF);
ann('Longitude (degree) along 37˚N',624,572,xtitleF);
const labF={family:'Lato, "Open Sans", sans-serif',size:21,color:'#111',weight:'bold'};
ann('(a)',21,267,labF);
ann('(b)',21,533,labF);
const legF={family:'"Liberation Serif", "Times New Roman", serif',size:20.3,color:'#111',weight:'bold'};
ann('×',62,596,{family:'Lato, sans-serif',size:16,color:BLUE});
ann('EVI2 at greenup onset',73,597,legF,{xanchor:'left'});
ann('○',307,596,{family:'"DejaVu Sans", sans-serif',size:12,color:ORANGE});
ann('EVI2 at maturity onset',320,597,legF,{xanchor:'left'});
ann('●',580,596,{family:'"DejaVu Sans", sans-serif',size:10,color:PURPLE});
ann('IGBP land cover class',593,597,legF,{xanchor:'left'});

Plotly.newPlot('chart',data,layout,{staticPlot:true,displayModeBar:false});
</script></body></html>
